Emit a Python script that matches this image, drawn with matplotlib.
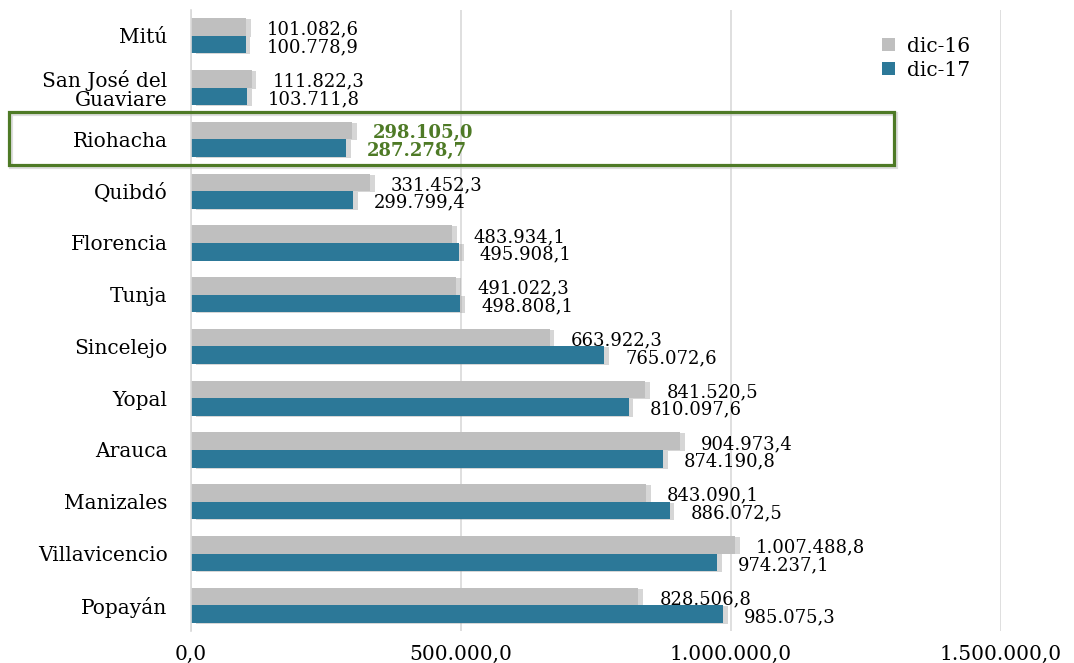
import matplotlib
matplotlib.use("Agg")
import matplotlib.pyplot as plt
import matplotlib.patheffects as pe
from matplotlib.patches import Rectangle, Patch
import numpy as np

categories = ["Mitú", "San José del\nGuaviare", "Riohacha", "Quibdó", "Florencia", "Tunja",
              "Sincelejo", "Yopal", "Arauca", "Manizales", "Villavicencio", "Popayán"]
dic16 = [101082.6, 111822.3, 298105.0, 331452.3, 483934.1, 491022.3,
         663922.3, 841520.5, 904973.4, 843090.1, 1007488.8, 828506.8]
dic17 = [100778.9, 103711.8, 287278.7, 299799.4, 495908.1, 498808.1,
         765072.6, 810097.6, 874190.8, 886072.5, 974237.1, 985075.3]
series_names = ["dic-16", "dic-17"]
xticks = [0, 500000, 1000000, 1500000]

def fmt(v):
    s = f"{v:,.1f}"
    return s.replace(",", "X").replace(".", ",").replace("X", ".")

plt.rcParams['font.family'] = ['DejaVu Serif']

fig = plt.figure(figsize=(10.74, 6.63), dpi=100)
ax = fig.add_axes([0.178, 0.048, 0.754, 0.937])

grey = "#BFBFBF"
blue = "#2C7898"
green = "#4E7A26"
h = 0.34
y = np.arange(len(categories))
shadow = [pe.SimplePatchShadow(offset=(3.5, -0.7), shadow_rgbFace="#8C8C8C", alpha=0.35), pe.Normal()]

b1 = ax.barh(y - h/2, dic16, height=h, color=grey, zorder=3)
b2 = ax.barh(y + h/2, dic17, height=h, color=blue, zorder=3)
for b in list(b1) + list(b2):
    b.set_path_effects(shadow)

hl = categories.index("Riohacha")
for i in range(len(categories)):
    bold = (i == hl)
    col = green if bold else "black"
    fw = "bold" if bold else "normal"
    ax.annotate(fmt(dic16[i]), (dic16[i], y[i] - h/2), xytext=(15, -2), textcoords="offset points",
                va="center", ha="left", fontsize=13, color=col, fontweight=fw, zorder=5)
    ax.annotate(fmt(dic17[i]), (dic17[i], y[i] + h/2), xytext=(15, -2), textcoords="offset points",
                va="center", ha="left", fontsize=13, color=col, fontweight=fw, zorder=5)

ax.set_ylim(len(categories) - 0.5, -0.5)
ax.set_xlim(0, 1500000)
ax.set_yticks(y)
ax.set_yticklabels(categories, fontsize=14.5, linespacing=1.0)
ax.set_xticks(xticks)
ax.set_xticklabels([fmt(v) for v in xticks], fontsize=14.5)
ax.tick_params(axis="y", length=0, pad=17)
ax.tick_params(axis="x", length=0, pad=10)
ax.grid(axis="x", color="#D9D9D9", linewidth=1.2, zorder=0)
for s in ["top", "right", "bottom"]:
    ax.spines[s].set_visible(False)
ax.spines["left"].set_color("#D9D9D9")
ax.spines["left"].set_linewidth(1.2)
ax.spines["left"].set_zorder(4)

handles = [Patch(facecolor=grey, edgecolor="none"), Patch(facecolor=blue, edgecolor="none")]
leg = ax.legend(handles, series_names, loc="upper right", bbox_to_anchor=(0.974, 0.973),
                frameon=False, fontsize=14.5, handlelength=0.65, handleheight=0.65,
                handletextpad=0.6, labelspacing=0.25, borderpad=0)

# highlight box around Riohacha (figure pixels)
x0, y0, x1, y1 = 9, 112, 894, 165
shadow_rect = Rectangle(((x0 + 2) / 1074, 1 - (y1 + 2) / 663), (x1 - x0) / 1074, (y1 - y0) / 663,
                        transform=fig.transFigure, fill=False, edgecolor="#C8C8C8", linewidth=3,
                        alpha=0.6, zorder=9)
rect = Rectangle((x0 / 1074, 1 - y1 / 663), (x1 - x0) / 1074, (y1 - y0) / 663,
                 transform=fig.transFigure, fill=False, edgecolor=green, linewidth=2.3, zorder=10)
fig.patches.append(shadow_rect)
fig.patches.append(rect)

fig.savefig("out.png", dpi=100)
